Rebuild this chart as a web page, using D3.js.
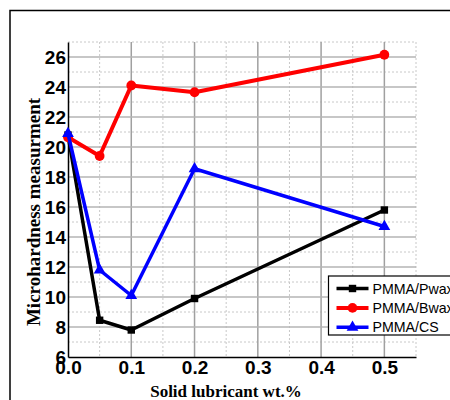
<!DOCTYPE html>
<html>
<head>
<meta charset="utf-8">
<script src="https://d3js.org/d3.v7.min.js"></script>
<style>
  body { margin: 0; background: #fff; }
  .tick text { font-family: "Liberation Sans", Arial, sans-serif; font-weight: bold; font-size: 19px; }
</style>
</head>
<body>
<svg width="450" height="400"></svg>
<script>
const xValues = [0.0, 0.05, 0.1, 0.2, 0.5];
const pwax = [20.8, 8.45, 7.8, 9.9, 15.8];
const bwax = [20.65, 19.4, 24.1, 23.65, 26.15];
const cs = [20.9, 11.8, 10.1, 18.55, 14.7];
const seriesNames = ["PMMA/Pwax", "PMMA/Bwax", "PMMA/CS"];
const xTicks = [0, 0.1, 0.2, 0.3, 0.4, 0.5];
const yTicks = [6, 8, 10, 12, 14, 16, 18, 20, 22, 24, 26];

var svg = d3.select("svg");
var mLeft = 68, mTop = 42, mRight = 416, mBottom = 357;

// outer frame
svg.append("rect")
  .attr("x", 10).attr("y", 10.5)
  .attr("width", 500).attr("height", 500)
  .attr("fill", "none").attr("stroke", "#000").attr("stroke-width", 1.5);

var x = d3.scaleLinear().domain([0, 0.55]).range([mLeft, mRight]);
var y = d3.scaleLinear().domain([6, 27]).range([mBottom, mTop]);

var grid = svg.append("g");
// minor grid
d3.range(0.05, 0.56, 0.1).forEach(function(v) {
  grid.append("line").attr("x1", x(v)).attr("x2", x(v)).attr("y1", mTop).attr("y2", mBottom)
    .attr("stroke", "#c8c8c8").attr("stroke-dasharray", "2,2");
});
d3.range(7, 27.5, 2).forEach(function(v) {
  grid.append("line").attr("x1", mLeft).attr("x2", mRight).attr("y1", y(v)).attr("y2", y(v))
    .attr("stroke", "#c8c8c8").attr("stroke-dasharray", "2,2");
});
// major grid
xTicks.slice(1).forEach(function(v) {
  grid.append("line").attr("x1", x(v)).attr("x2", x(v)).attr("y1", mTop).attr("y2", mBottom)
    .attr("stroke", "#a0a0a0").attr("stroke-width", 1.5);
});
yTicks.slice(1).forEach(function(v) {
  grid.append("line").attr("x1", mLeft).attr("x2", mRight).attr("y1", y(v)).attr("y2", y(v))
    .attr("stroke", "#b4b4b4").attr("stroke-width", 1.5);
});

// axes
var xAxis = svg.append("g")
  .attr("transform", "translate(0," + mBottom + ")")
  .call(d3.axisBottom(x).tickValues(xTicks).tickFormat(d3.format(".1f")).tickSize(0).tickPadding(3));
xAxis.select(".domain").attr("stroke", "#000").attr("stroke-width", 1.5);
xAxis.selectAll(".tick text").attr("fill", "#000");

var yAxis = svg.append("g")
  .attr("transform", "translate(" + mLeft + ",0)")
  .call(d3.axisLeft(y).tickValues(yTicks).tickSize(0).tickPadding(2));
yAxis.select(".domain").attr("stroke", "#000").attr("stroke-width", 1.5);
yAxis.selectAll(".tick text").attr("fill", "#000");

// axis titles
svg.append("text")
  .attr("x", 226).attr("y", 397)
  .attr("text-anchor", "middle")
  .style("font-family", "'Liberation Serif', 'Times New Roman', serif")
  .style("font-weight", "bold").style("font-size", "17px")
  .text("Solid lubricant wt.%");

svg.append("text")
  .attr("transform", "translate(40,212)rotate(-90)")
  .attr("text-anchor", "middle")
  .style("font-family", "'Liberation Serif', 'Times New Roman', serif")
  .style("font-weight", "bold").style("font-size", "19px")
  .text("Microhardness measurment");

// series
var series = [
  { name: seriesNames[0], values: pwax, color: "#000", width: 3.5, symbol: d3.symbolSquare, size: 55 },
  { name: seriesNames[1], values: bwax, color: "#ff0000", width: 4, symbol: d3.symbolCircle, size: 75 },
  { name: seriesNames[2], values: cs, color: "#0000ff", width: 3.5, symbol: d3.symbolTriangle, size: 60 }
];

var line = d3.line()
  .x(function(d, i) { return x(xValues[i]); })
  .y(function(d) { return y(d); });

series.forEach(function(s) {
  svg.append("path")
    .datum(s.values)
    .attr("d", line)
    .attr("fill", "none")
    .attr("stroke", s.color)
    .attr("stroke-width", s.width)
    .attr("stroke-linejoin", "round");
  svg.append("g").selectAll("path")
    .data(s.values)
    .enter().append("path")
    .attr("d", d3.symbol().type(s.symbol).size(s.size))
    .attr("transform", function(d, i) { return "translate(" + x(xValues[i]) + "," + y(d) + ")"; })
    .attr("fill", s.color);
});

// legend
var legend = svg.append("g").attr("transform", "translate(328.5,276)");
legend.append("rect")
  .attr("width", 140).attr("height", 59)
  .attr("fill", "#fff").attr("stroke", "#000").attr("stroke-width", 1.2);
series.forEach(function(s, i) {
  var ly = 12.5 + i * 19.4;
  legend.append("line")
    .attr("x1", 8).attr("x2", 40).attr("y1", ly).attr("y2", ly)
    .attr("stroke", s.color).attr("stroke-width", s.width);
  legend.append("path")
    .attr("d", d3.symbol().type(s.symbol).size(s.size))
    .attr("transform", "translate(24," + ly + ")")
    .attr("fill", s.color);
  legend.append("text")
    .attr("x", 44).attr("y", ly + 5)
    .style("font-family", "'Liberation Sans', Arial, sans-serif")
    .style("font-size", "14.2px")
    .text(s.name);
});
</script>
</body>
</html>
